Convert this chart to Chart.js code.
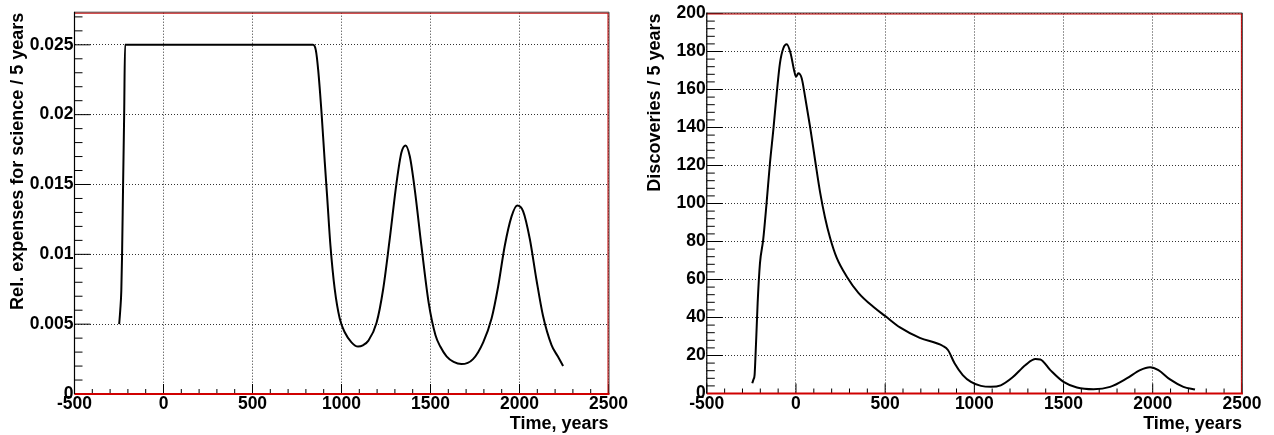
<!DOCTYPE html>
<html lang="en">
<head>
<meta charset="UTF-8">
<title>Expenses for science and discoveries</title>
<script src="https://cdn.jsdelivr.net/npm/chart.js"></script>
<style>
    body { margin: 0; background: #fff; }
    .pane { position: absolute; top: 0; width: 637px; height: 435px; }
    #left { left: 0; }
    #right { left: 637px; }
</style>
</head>
<body>
<div class="pane" id="left"><canvas id="expChart" width="637" height="435"></canvas></div>
<div class="pane" id="right"><canvas id="discChart" width="637" height="435"></canvas></div>
<script>
// left panel: relative expenses for science / 5 years
const expYears = [-249, -243, -237, -233, -227, -221, -216, 0, 400, 840, 856, 869, 888, 906, 919, 938, 962, 990,
    1019, 1056, 1093, 1120, 1150, 1197, 1234, 1271, 1309, 1337, 1360, 1384, 1412, 1449, 1490, 1528, 1555, 1590,
    1630, 1674, 1739, 1796, 1843, 1880, 1917, 1955, 1987, 2020, 2058, 2095, 2132, 2180, 2215, 2245];
const expValues = [0.005, 0.006, 0.0074, 0.0098, 0.015, 0.02, 0.025, 0.025, 0.025, 0.025, 0.0246, 0.0232, 0.0201,
    0.0166, 0.0142, 0.0106, 0.0075, 0.0054, 0.0044, 0.0037, 0.0034, 0.00348, 0.0038, 0.0051, 0.0075, 0.0111,
    0.0151, 0.0173, 0.0178, 0.0170, 0.0146, 0.0106, 0.0065, 0.0042, 0.0034, 0.0027, 0.0023, 0.00214, 0.0025,
    0.0037, 0.0054, 0.0077, 0.0106, 0.0127, 0.0135, 0.0131, 0.0111, 0.0082, 0.0056, 0.0035, 0.0027, 0.0020];

// right panel: discoveries / 5 years
const discYears = [-245, -238, -232, -226, -221, -215, -202, -184, -165, -146, -127, -108, -90, -71, -52, -30, -11,
    0, 13, 32, 51, 79, 107, 135, 163, 191, 228, 285, 350, 435, 500, 583, 694, 824, 852, 889, 935, 981, 1037, 1093,
    1148, 1213, 1287, 1343, 1370, 1426, 1500, 1575, 1668, 1761, 1854, 1929, 1985, 2032, 2097, 2172, 2237];
const discValues = [5.4, 7.5, 9.8, 22, 33.4, 47.5, 68.5, 80.8, 100.1, 121.2, 138.7, 158, 173.8, 181.7, 183.8, 179,
    170.3, 166.7, 168.5, 165.9, 156.2, 140.4, 122.9, 106, 92.5, 82, 71.5, 61.5, 53, 45.5, 40.8, 34.8, 29.3, 25,
    22.9, 15.9, 9.7, 6.1, 4.0, 3.5, 4.3, 8.4, 15, 18.1, 17.9, 12.3, 6.1, 3.2, 2.3, 3.5, 7.9, 12.3, 13.8, 12.3, 7.4,
    3.5, 2.1];

const xTicks = [-500, 0, 500, 1000, 1500, 2000, 2500];
const xTickLabels = ['-500', '0', '500', '1000', '1500', '2000', '2500'];
const expTicks = [0, 0.005, 0.01, 0.015, 0.02, 0.025];
const expTickLabels = ['0', '0.005', '0.01', '0.015', '0.02', '0.025'];
const discTicks = [0, 20, 40, 60, 80, 100, 120, 140, 160, 180, 200];
const discTickLabels = ['0', '20', '40', '60', '80', '100', '120', '140', '160', '180', '200'];

const FONT = '"Liberation Sans", Arial, Helvetica, sans-serif';

// ROOT-like frame: inner ticks (major + 4 minor), red box, black y axis
const rootFrame = {
    id: 'rootFrame',
    afterDraw(chart) {
        const { ctx, chartArea: a, scales: { x, y } } = chart;
        ctx.save();
        ctx.strokeStyle = '#000';
        ctx.lineWidth = 1;

        const xStep = (x.ticks[1].value - x.ticks[0].value) / 5;
        const nx = Math.floor((x.max - x.min) / xStep + 1e-6);
        for (let i = 0; i <= nx; i++) {
            const px = x.getPixelForValue(x.min + i * xStep);
            ctx.beginPath();
            ctx.moveTo(px, a.bottom);
            ctx.lineTo(px, a.bottom - (i % 5 === 0 ? 10 : 5));
            ctx.stroke();
        }

        const yStep = (y.ticks[1].value - y.ticks[0].value) / 5;
        const ny = Math.floor((y.max - y.min) / yStep + 1e-6);
        for (let i = 0; i <= ny; i++) {
            const py = y.getPixelForValue(y.min + i * yStep);
            ctx.beginPath();
            ctx.moveTo(a.left, py);
            ctx.lineTo(a.left + (i % 5 === 0 ? 16 : 8), py);
            ctx.stroke();
        }

        // top and right edges: dark line with a red one inside
        ctx.lineWidth = 1;
        ctx.strokeStyle = '#444';
        ctx.beginPath();
        ctx.moveTo(a.left, a.top - 0.5);
        ctx.lineTo(a.right + 0.5, a.top - 0.5);
        ctx.lineTo(a.right + 0.5, a.bottom);
        ctx.stroke();
        ctx.strokeStyle = '#c00000';
        ctx.beginPath();
        ctx.moveTo(a.left, a.top + 0.5);
        ctx.lineTo(a.right - 0.5, a.top + 0.5);
        ctx.lineTo(a.right - 0.5, a.bottom);
        ctx.stroke();

        ctx.strokeStyle = '#d00000';
        ctx.lineWidth = 2;
        ctx.beginPath();
        ctx.moveTo(a.left, a.bottom);
        ctx.lineTo(a.right + 1, a.bottom);
        ctx.stroke();
        ctx.strokeStyle = '#000';
        ctx.lineWidth = 1.2;
        ctx.beginPath();
        ctx.moveTo(a.left, a.top - 1);
        ctx.lineTo(a.left, a.bottom);
        ctx.stroke();
        ctx.restore();
    }
};

function makeChart(id, years, values, cfg) {
    const tickFont = { family: FONT, size: 17.5, weight: 'bold' };
    const titleFont = { family: FONT, size: 18, weight: 'bold' };
    return new Chart(document.getElementById(id), {
        type: 'line',
        data: {
            datasets: [{
                data: years.map((t, i) => ({ x: t, y: values[i] })),
                borderColor: '#000',
                borderWidth: 2,
                pointRadius: 0,
                fill: false,
                cubicInterpolationMode: 'monotone'
            }]
        },
        options: {
            responsive: false,
            animation: false,
            events: [],
            layout: { padding: { top: cfg.top, right: cfg.right, left: 0, bottom: 0 } },
            plugins: { legend: { display: false }, tooltip: { enabled: false } },
            scales: {
                x: {
                    type: 'linear',
                    min: -500,
                    max: 2500,
                    afterBuildTicks: s => { s.ticks = xTicks.map(v => ({ value: v })); },
                    afterFit: s => { s.height = cfg.xHeight; },
                    ticks: {
                        autoSkip: false,
                        maxRotation: 0,
                        padding: 0,
                        color: '#000',
                        font: tickFont,
                        callback: v => xTickLabels[xTicks.indexOf(v)]
                    },
                    grid: { color: '#333', lineWidth: 1, drawTicks: false },
                    border: { display: false, dash: [1, 2] },
                    title: { display: true, text: 'Time, years', align: 'end', color: '#000', font: titleFont, padding: 0 }
                },
                y: {
                    type: 'linear',
                    min: 0,
                    max: cfg.yMax,
                    afterBuildTicks: s => { s.ticks = cfg.yTicks.map(v => ({ value: v })); },
                    afterFit: s => { s.width = cfg.yWidth; },
                    ticks: {
                        autoSkip: false,
                        padding: 1,
                        color: '#000',
                        font: tickFont,
                        callback: v => cfg.yLabels[cfg.yTicks.indexOf(v)]
                    },
                    grid: { color: '#333', lineWidth: 1, drawTicks: false },
                    border: { display: false, dash: [1, 2] },
                    title: { display: true, text: cfg.yTitle, align: 'end', color: '#000', font: titleFont, padding: { top: 7, bottom: 0 } }
                }
            }
        },
        plugins: [rootFrame]
    });
}

makeChart('expChart', expYears, expValues, {
    yMax: 0.0273, yTicks: expTicks, yLabels: expTickLabels,
    yTitle: 'Rel. expenses for science / 5 years',
    top: 12.7, right: 28.5, yWidth: 74.5, xHeight: 41
});

makeChart('discChart', discYears, discValues, {
    yMax: 200, yTicks: discTicks, yLabels: discTickLabels,
    yTitle: 'Discoveries / 5 years',
    top: 13.5, right: 32.1, yWidth: 69.8, xHeight: 41.5
});
</script>
</body>
</html>
